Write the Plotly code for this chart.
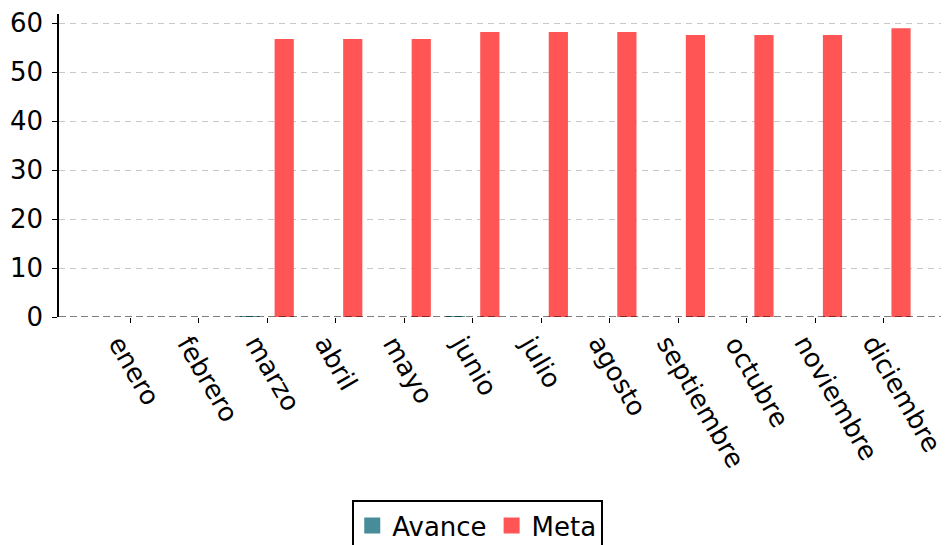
import plotly.graph_objects as go

meses = ["enero", "febrero", "marzo", "abril", "mayo", "junio", "julio",
         "agosto", "septiembre", "octubre", "noviembre", "diciembre"]
avance = [0, 0, 0.2, 0, 0, 0.2, 0, 0, 0, 0, 0, 0]
meta = [0, 0, 56.8, 56.8, 56.8, 58.2, 58.2, 58.2, 57.6, 57.6, 57.6, 59.0]
y_ticks = [0, 10, 20, 30, 40, 50, 60]
series = [("Avance", avance, "#468d99"), ("Meta", meta, "#ff5555")]

FONT = "DejaVu Sans"
FS = 26
xpos = list(range(len(meses)))

fig = go.Figure()
for name, vals, col in series:
    fig.add_trace(go.Bar(x=xpos, y=vals, name=name, marker_color=col,
                         marker_line_width=0, showlegend=False, legendgroup=name))
for name, vals, col in series:
    fig.add_trace(go.Scatter(x=[None], y=[None], name=name, mode="markers",
                             marker=dict(symbol="square", size=22, color=col),
                             legendgroup=name, showlegend=True))

fig.add_shape(type="line", xref="paper", yref="y", x0=0, x1=1, y0=0, y1=0,
              line=dict(color="black", width=1.2, dash="7px,4px"), layer="above")

for i, m in enumerate(meses):
    fig.add_annotation(x=i, y=0, xref="x", yref="y", text=m, showarrow=False,
                       textangle=60, xanchor="left", yanchor="top",
                       yshift=-11, xshift=-30,
                       font=dict(family=FONT, size=FS, color="black"))

fig.update_layout(
    width=949, height=545,
    margin=dict(l=51, r=8, t=6, b=236, autoexpand=False),
    plot_bgcolor="white", paper_bgcolor="white",
    barmode="group", bargap=0, bargroupgap=0.44,
    font=dict(family=FONT, size=FS, color="black"),
    showlegend=True,
    legend=dict(orientation="h", xref="container", yref="container",
                x=0.495, xanchor="center", y=0.097, yanchor="top",
                bordercolor="black", borderwidth=2, bgcolor="white",
                font=dict(family=FONT, size=FS, color="black"),
                itemsizing="trace", itemwidth=30, tracegroupgap=0),
)
fig.update_xaxes(range=[-1.036, 11.95], tickvals=xpos, showticklabels=False,
                 ticks="outside", ticklen=5, tickcolor="black", tickwidth=1,
                 showgrid=False, zeroline=False, showline=False, automargin=False)
fig.update_yaxes(range=[0, 61.9], tickvals=y_ticks, ticks="outside", ticklen=5,
                 tickcolor="black", tickwidth=1, showline=True, linecolor="black",
                 linewidth=1.5, showgrid=True, gridcolor="#c8c8c8", gridwidth=1,
                 griddash="6px,5px", zeroline=False, automargin=False,
                 ticklabelstandoff=4,
                 tickfont=dict(family=FONT, size=FS, color="black"))

fig.write_html("out.html")
